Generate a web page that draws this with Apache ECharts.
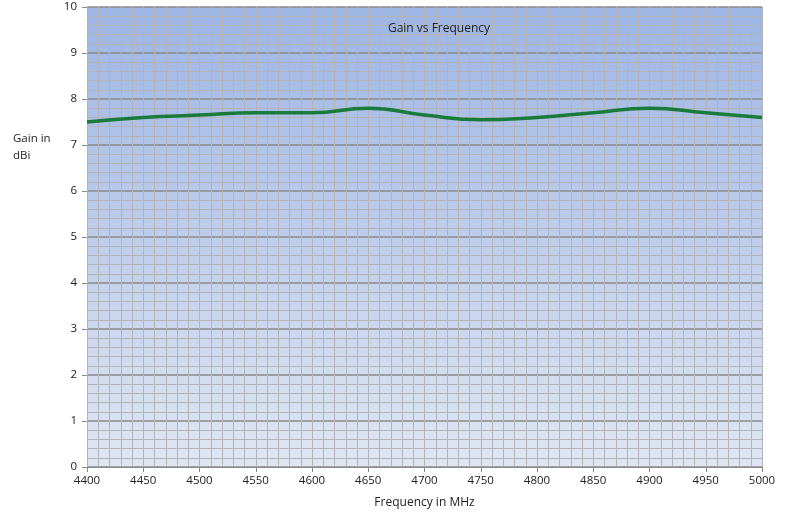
<!DOCTYPE html>
<html><head><meta charset="utf-8">
<script src="https://cdn.jsdelivr.net/npm/echarts@6/dist/echarts.min.js"></script>
<style>html,body{margin:0;padding:0;background:#fff}#c{width:787px;height:514px}</style>
</head><body><div id="c"></div>
<script>
const frequencies = [4400,4450,4500,4550,4600,4650,4700,4750,4800,4850,4900,4950,5000];
const gain = [7.5,7.6,7.65,7.7,7.7,7.8,7.65,7.55,7.6,7.7,7.8,7.7,7.6];
const chart = echarts.init(document.getElementById('c'));
const font = 'Open Sans, Liberation Sans, sans-serif';
chart.setOption({
  animation:false,
  title:{text:'Gain vs Frequency',left:434,top:18,textAlign:'center',textStyle:{fontSize:12,fontWeight:'normal',color:'#222',fontFamily:font}},
  graphic:[{type:'text',left:13,top:130,style:{text:'Gain in\ndBi',fontSize:11.5,lineHeight:17,fill:'#222',fontFamily:font}}],
  grid:{left:87,right:25,top:7,bottom:46,show:true,borderWidth:0,
    backgroundColor:{type:'linear',x:0,y:0,x2:0,y2:1,colorStops:[{offset:0,color:'#9db5e4'},{offset:1,color:'#dfe6f2'}]}},
  xAxis:{type:'value',min:4400,max:5000,interval:50,name:'Frequency in MHz',nameLocation:'middle',nameGap:30,
    nameTextStyle:{fontSize:12,color:'#222',fontFamily:font},
    axisLine:{lineStyle:{color:'#888'}},axisTick:{show:true,length:5,inside:false,lineStyle:{color:'#888'}},
    axisLabel:{fontSize:11.5,color:'#222',margin:8,fontFamily:font,formatter:v=>String(v)},
    splitLine:{show:true,lineStyle:{color:'#b4b4b8',width:1}},
    minorTick:{show:false,splitNumber:5},
    minorSplitLine:{show:true,lineStyle:{color:'#b4b4b8',width:1}}},
  yAxis:{type:'value',min:0,max:10,interval:1,
    axisLine:{show:false},axisTick:{show:true,length:5,lineStyle:{color:'#888'}},
    axisLabel:{fontSize:11.5,color:'#222',margin:10,fontFamily:font},
    splitLine:{show:true,lineStyle:{color:'#8a8a8a',width:1.5}},
    minorTick:{show:false,splitNumber:5},
    minorSplitLine:{show:true,lineStyle:{color:'#b4b4b8',width:1}}},
  series:[{type:'line',data:frequencies.map((f,i)=>[f,gain[i]]),smooth:0.5,showSymbol:false,
    lineStyle:{color:'#1a7a3c',width:3.5}}]
});
</script></body></html>
